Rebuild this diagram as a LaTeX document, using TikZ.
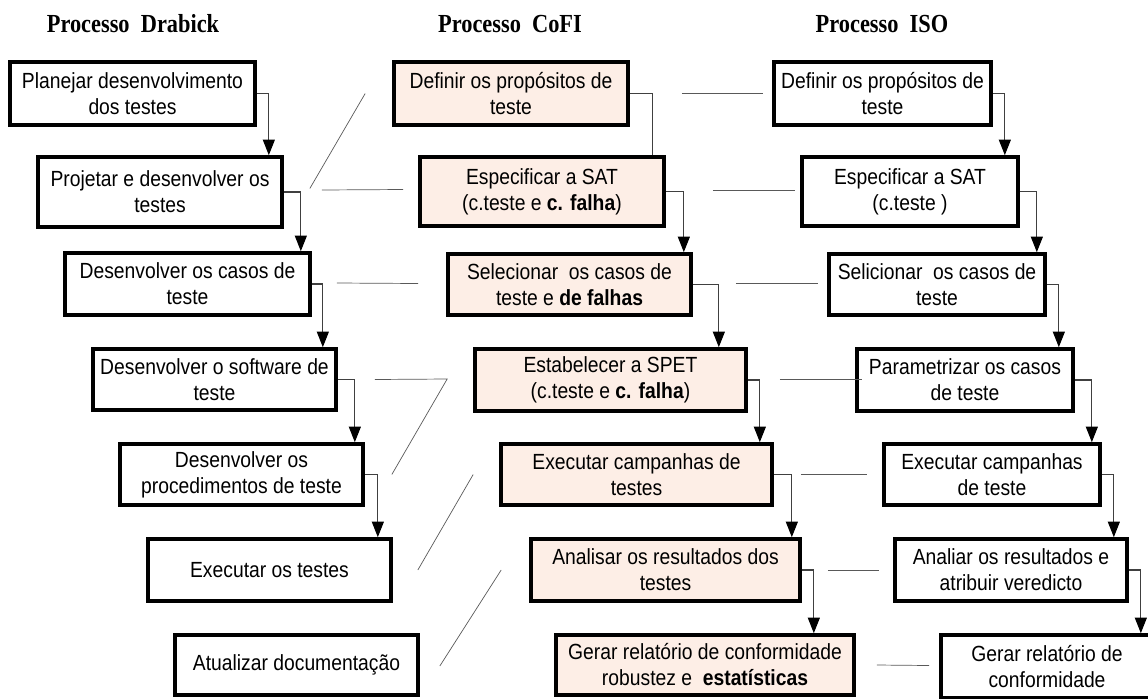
\documentclass[tikz,border=0pt]{standalone}
\usepackage{fontspec}
\setmainfont{Liberation Sans}[FakeStretch=0.88]
\newfontfamily\titlefont{Liberation Serif}[FakeStretch=0.86]
\usepackage{xcolor}
\definecolor{cofirosa}{RGB}{253,238,230}
\usetikzlibrary{positioning,calc,arrows.meta}
\newlength{\px}
\setlength{\px}{0.025cm}

\begin{document}
\begin{tikzpicture}[x=0.025cm, y=-0.025cm,
	caixa/.style 2 args={draw=black, line width=2.6pt, align=center, inner sep=0pt,
		minimum width=#1\px, minimum height=#2\px, font=\fontsize{15.6}{18.5}\selectfont},
	cofi/.style={fill=cofirosa},
	titulo/.style={anchor=base, font=\titlefont\bfseries\fontsize{18.5}{20}\selectfont},
	seta/.style={->, draw=black!75, line width=0.8pt},
	linha/.style={draw=black!75, line width=0.8pt},
	ligacao/.style={draw=black!65, line width=0.5pt}]
	\tikzset{>={Triangle[length=11pt, width=8.5pt, color=black]}}
	\useasboundingbox (0,0) rectangle (1148,698);

	\node[titulo] (tdra) at (133,32) {Processo\ \ Drabick};
	\node[titulo] (tcofi) at (510,32) {Processo\ \ CoFI};
	\node[titulo] (tiso) at (882,32) {Processo\ \ ISO};

	%Drabick
	\node[caixa={245}{63}] (d1) at (132.5,93.5) {Planejar desenvolvimento\\dos testes};
	\node[caixa={244}{70}] (d2) at (160,192) {Projetar e desenvolver os\\testes};
	\node[caixa={245}{62}] (d3) at (187.5,284) {Desenvolver os casos de\\teste};
	\node[caixa={243}{61}] (d4) at (214.5,379.5) {Desenvolver o software de\\teste};
	\node[caixa={243}{61}] (d5) at (241.5,474.5) {Desenvolver os\\procedimentos de teste};
	\node[caixa={243}{62}] (d6) at (269.5,570) {Executar os testes};
	\node[caixa={243}{60}] (d7) at (296.5,665) {Atualizar documentação};

	%CoFI
	\node[caixa={234}{63}, cofi] (c1) at (511,93.5) {Definir os propósitos de\\teste};
	\node[caixa={244}{69}, cofi] (c2) at (542,191.5) {Especificar a SAT\\(c.teste e \textbf{c. falha})};
	\node[caixa={243}{61}, cofi] (c3) at (569.5,284.5) {Selecionar\ \ os casos de\\teste e \textbf{de falhas}};
	\node[caixa={271}{62}, cofi] (c4) at (610.5,380) {Estabelecer a SPET\\(c.teste e \textbf{c. falha})};
	\node[caixa={271}{61}, cofi] (c5) at (636.5,474.5) {Executar campanhas de\\testes};
	\node[caixa={269}{62}, cofi] (c6) at (665.5,570) {Analisar os resultados dos\\testes};
	\node[caixa={298}{60}, cofi] (c7) at (705,665) {Gerar relatório de conformidade\\robustez e\ \ \textbf{estatísticas}};

	%ISO
	\node[caixa={217}{63}] (i1) at (882.5,93.5) {Definir os propósitos de\\teste};
	\node[caixa={216}{69}] (i2) at (910,191.5) {Especificar a SAT\\(c.teste )};
	\node[caixa={216}{61}] (i3) at (937,284.5) {Selicionar\ \ os casos de\\teste};
	\node[caixa={216}{62}] (i4) at (965,380) {Parametrizar os casos\\de teste};
	\node[caixa={216}{61}] (i5) at (992,474.5) {Executar campanhas\\de teste};
	\node[caixa={232}{62}] (i6) at (1011,570) {Analiar os resultados e\\atribuir veredicto};
	\node[caixa={212}{63}] (i7) at (1047,666.5) {Gerar relatório de\\conformidade};

	%setas
	\draw[seta] (d1.east) -| ($(d2.north east)+(-15,0)$);
	\draw[seta] (d2.east) -| ($(d3.north east)+(-11,0)$);
	\draw[seta] (d3.east) -| ($(d4.north east)+(-15,0)$);
	\draw[seta] (d4.east) -| ($(d5.north east)+(-10,0)$);
	\draw[seta] (d5.east) -| ($(d6.north east)+(-15,0)$);

	\draw[linha] (c1.east) -| ($(c2.north east)+(-13,0)$);
	\draw[seta] (c2.east) -| ($(c3.north east)+(-9,0)$);
	\draw[seta] (c3.east) -| ($(c4.north east)+(-29,0)$);
	\draw[seta] (c4.east) -| ($(c5.north east)+(-14,0)$);
	\draw[seta] (c5.east) -| ($(c6.north east)+(-10,0)$);
	\draw[seta] (c6.east) -| ($(c7.north east)+(-42,0)$);

	\draw[seta] (i1.east) -| ($(i2.north east)+(-15,0)$);
	\draw[seta] (i2.east) -| ($(i3.north east)+(-10,0)$);
	\draw[seta] (i3.east) -| ($(i4.north east)+(-16,0)$);
	\draw[seta] (i4.east) -| ($(i5.north east)+(-10,0)$);
	\draw[seta] (i5.east) -| ($(i6.north east)+(-15,0)$);
	\draw[seta] (i6.east) -| ($(i7.north east)+(-14,0)$);

	%ligacoes Drabick - CoFI
	\draw[ligacao] ($(d2.east)+(26,-3.5)$) -- ($(c1.west)+(-27,0)$);
	\draw[ligacao] ($(d2.east)+(38,-2)$) -- ($(c2.west)+(-15,-2)$);
	\draw[ligacao] ($(d3.east)+(25,-1)$) -- ($(c3.west)+(-28,-1)$);
	\draw[ligacao] ($(d4.east)+(37,0)$) -- ($(c4.west)+(-26,-1)$) -- ($(d5.east)+(27,0)$);
	\draw[ligacao] ($(c5.west)+(-26,0)$) -- ($(d6.east)+(25,0)$);
	\draw[ligacao] ($(c6.west)+(-28,0)$) -- ($(d7.east)+(20,1)$);

	%ligacoes CoFI - ISO
	\draw[ligacao] ($(c1.east)+(52,0)$) -- ($(i1.west)+(-9,0)$);
	\draw[ligacao] ($(c2.east)+(47,-1)$) -- ($(i2.west)+(-5,-1)$);
	\draw[ligacao] ($(c3.east)+(43,-1)$) -- ($(i3.west)+(-9,-1)$);
	\draw[ligacao] ($(c4.east)+(32,-1)$) -- ($(i4.west)+(7,-1)$);
	\draw[ligacao] ($(c5.east)+(27,0)$) -- ($(i5.west)+(-15,0)$);
	\draw[ligacao] ($(c6.east)+(26,0)$) -- ($(i6.west)+(-14,0)$);
	\draw[ligacao] ($(c7.east)+(21,0)$) -- ($(i7.west)+(-10,-1)$);
\end{tikzpicture}
\end{document}
